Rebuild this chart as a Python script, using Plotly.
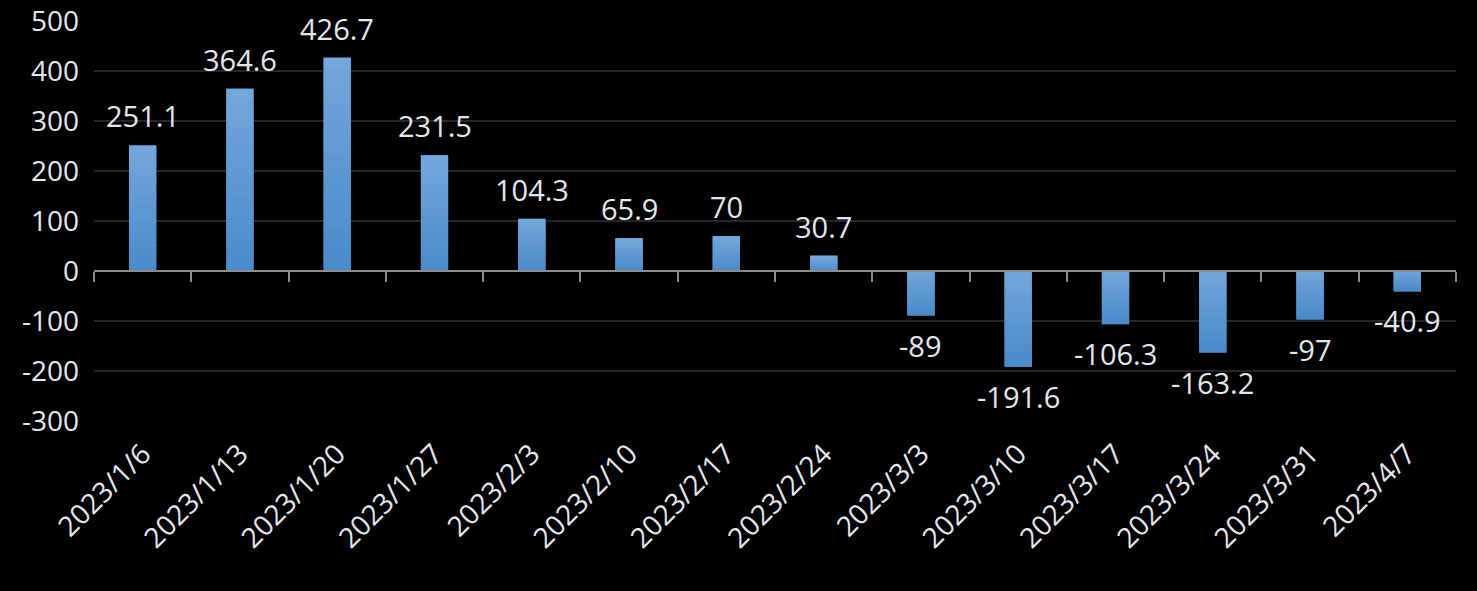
import plotly.graph_objects as go

categories = ["2023/1/6", "2023/1/13", "2023/1/20", "2023/1/27", "2023/2/3", "2023/2/10",
              "2023/2/17", "2023/2/24", "2023/3/3", "2023/3/10", "2023/3/17", "2023/3/24",
              "2023/3/31", "2023/4/7"]
values = [251.1, 364.6, 426.7, 231.5, 104.3, 65.9, 70, 30.7, -89, -191.6, -106.3, -163.2, -97, -40.9]
y_ticks = [500, 400, 300, 200, 100, 0, -100, -200, -300]

FONT = "Open Sans"
TXT = "#e4e8ee"
TOP_RGB = (0x74, 0xa7, 0xdb)
BOT_RGB = (0x4a, 0x8a, 0xc9)
N_SEG = 24
OVERLAP = 3.0   # data units each slice reaches back over the previous one (hides seams)
BAR_W = 0.28


def mix(t):
    # t=0 -> top colour, t=1 -> bottom colour
    r, g, b = (round(a + (c - a) * t) for a, c in zip(TOP_RGB, BOT_RGB))
    return f"rgb({r},{g},{b})"


fig = go.Figure()
# solid base bar (also the hover target)
fig.add_trace(go.Bar(
    x=categories, y=values,
    marker=dict(color=mix(0.5), line=dict(width=0)),
    width=BAR_W, hoverinfo="x+y", showlegend=False,
))
# vertical gradient: slices from zero outward, each slightly overlapping the previous one
for k in range(N_SEG):
    mid = (k + 0.5) / N_SEG                     # relative distance of slice from zero
    cols = [mix(1 - mid) if v >= 0 else mix(mid) for v in values]
    ext = 0 if k == 0 else OVERLAP
    bases, heights = [], []
    for v in values:
        s = 1 if v >= 0 else -1
        lo = v * k / N_SEG - s * min(ext, abs(v) * k / N_SEG)
        hi = v * (k + 1) / N_SEG
        bases.append(lo)
        heights.append(hi - lo)
    fig.add_trace(go.Bar(
        x=categories, y=heights, base=bases,
        marker=dict(color=cols, line=dict(width=0)),
        width=BAR_W, hoverinfo="skip", showlegend=False,
    ))

# invisible trace to host the zero-crossing axis with boundary ticks
fig.add_trace(go.Scatter(x=categories, y=[0] * len(categories), xaxis="x2",
                         mode="markers", marker=dict(opacity=0), showlegend=False,
                         hoverinfo="skip"))

for c, v in zip(categories, values):
    fig.add_annotation(
        x=c, y=v, text=f"{v:g}", showarrow=False,
        yanchor="bottom" if v >= 0 else "top",
        yshift=8 if v >= 0 else -8,
        font=dict(family=FONT, size=29, color=TXT),
    )

fig.update_layout(
    width=1477, height=591,
    margin=dict(l=94, r=21, t=21, b=170, autoexpand=False),
    paper_bgcolor="black", plot_bgcolor="black",
    showlegend=False, barmode="overlay",
    font=dict(family=FONT, size=28, color=TXT),
    xaxis=dict(
        type="category", tickangle=-45, showgrid=False, showline=False, automargin=False,
        ticks="", tickfont=dict(family=FONT, size=28, color=TXT), ticklabelstandoff=10,
        range=[-0.5, len(categories) - 0.5],
    ),
    xaxis2=dict(
        type="category", overlaying="x", anchor="free", position=0.375, automargin=False,
        side="bottom", showticklabels=False, showgrid=False,
        showline=True, linecolor="#8c8c8c", linewidth=2,
        ticks="outside", tickson="boundaries", ticklen=10, tickwidth=2, tickcolor="#8c8c8c",
        range=[-0.5, len(categories) - 0.5],
    ),
    yaxis=dict(
        range=[-300, 500], tickvals=y_ticks, ticktext=[str(t) for t in y_ticks],
        showgrid=True, gridcolor="#262626", gridwidth=2, automargin=False,
        zeroline=False, ticks="", ticklen=0, tickfont=dict(family=FONT, size=28, color=TXT),
        ticklabelstandoff=14,
    ),
)

fig.write_html("out.html")
